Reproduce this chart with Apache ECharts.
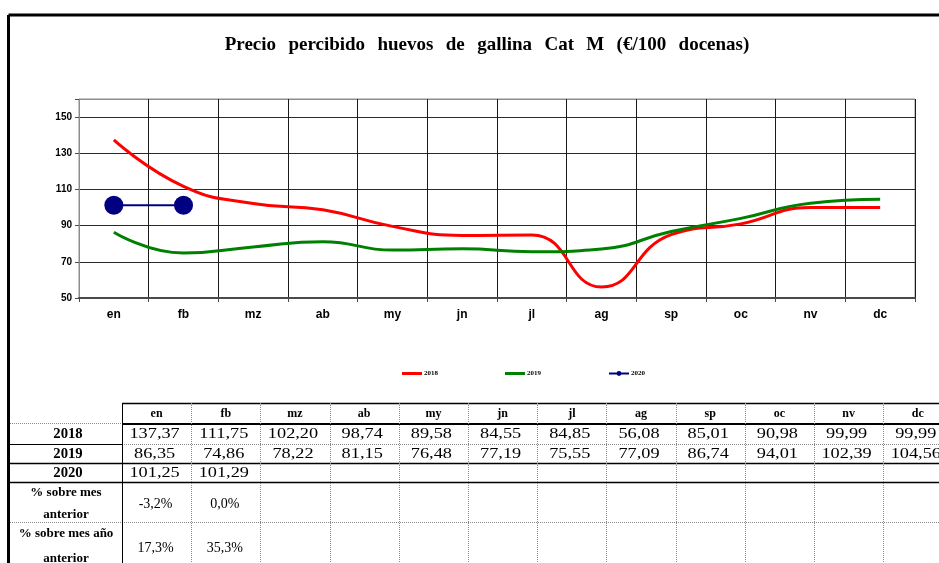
<!DOCTYPE html>
<html>
<head>
<meta charset="utf-8">
<script src="https://cdn.jsdelivr.net/npm/echarts@6/dist/echarts.min.js"></script>
<style>
  html, body { margin: 0; padding: 0; background: #fff; }
  #chart { width: 939px; height: 563px; }
</style>
</head>
<body>
<div id="chart"></div>
<script>
// Monthly egg prices (€/100 dozen), category M
const titleText = 'Precio percibido huevos de gallina Cat M (€/100 docenas)';
const months = ['en', 'fb', 'mz', 'ab', 'my', 'jn', 'jl', 'ag', 'sp', 'oc', 'nv', 'dc'];
const years = ['2018', '2019', '2020'];
const v2018 = [137.37, 111.75, 102.20, 98.74, 89.58, 84.55, 84.85, 56.08, 85.01, 90.98, 99.99, 99.99];
const v2019 = [86.35, 74.86, 78.22, 81.15, 76.48, 77.19, 75.55, 77.09, 86.74, 94.01, 102.39, 104.56];
const v2020 = [101.25, 101.29];
const pctPrevMonth = [-3.2, 0.0];
const pctPrevYear = [17.3, 35.3];
const yTicks = [50, 70, 90, 110, 130, 150];

const serif = '"Liberation Serif", "Times New Roman", serif';
const sans = '"Liberation Sans", Arial, sans-serif';

const fmtNum = v => v.toFixed(2).replace('.', ',');
const fmtPct = v => v.toFixed(1).replace('.', ',') + '%';

// ---- data table under the chart ----
const colX0 = 122, colW = 69.2;
const rowY = [403, 424, 444, 463, 482, 522, 563];
const labelCx = 66;
const tableRight = 939;
const g = [];

function hline(x1, x2, y, solid, w) {
  g.push({ type: 'line', silent: true,
    shape: { x1, y1: y, x2, y2: y },
    style: solid ? { stroke: '#000', lineWidth: w || 1 }
                 : { stroke: '#8a8a8a', lineWidth: 1, lineDash: [1, 1] } });
}
function vline(x, y1, y2, solid) {
  g.push({ type: 'line', silent: true,
    shape: { x1: x, y1, x2: x, y2 },
    style: solid ? { stroke: '#000', lineWidth: 1 }
                 : { stroke: '#8a8a8a', lineWidth: 1, lineDash: [1, 1] } });
}
function text(str, x, y, font, sx) {
  g.push({ type: 'text', silent: true, x, y, scaleX: sx || 1,
    style: { text: str, font, fill: '#000', align: 'center', verticalAlign: 'middle' } });
}

// outer frame
g.push({ type: 'line', silent: true, shape: { x1: 8.5, y1: 15, x2: 939, y2: 15 }, style: { stroke: '#000', lineWidth: 3 } });
g.push({ type: 'line', silent: true, shape: { x1: 8.5, y1: 15, x2: 8.5, y2: 563 }, style: { stroke: '#000', lineWidth: 3 } });

// chart title, words spread out
text(titleText.split(' ').join(' \u2009\u2009'), 487, 45, 'bold 19px ' + serif);

// horizontal rules
hline(colX0, tableRight, rowY[0] + 0.5, true, 1.5);
hline(10, colX0, rowY[1] - 0.5, false);
hline(colX0, tableRight, rowY[1], true, 2);
hline(10, colX0, rowY[2] + 0.5, true, 1);
hline(colX0, tableRight, rowY[2] + 0.5, false);
hline(10, tableRight, rowY[3] + 0.5, true, 1.5);
hline(10, tableRight, rowY[4] + 0.5, true, 1.5);
hline(10, tableRight, rowY[5] + 0.5, false);

// vertical rules
vline(colX0 + 0.5, rowY[0], 563, true);
for (let i = 1; i <= months.length; i++) {
  vline(Math.round(colX0 + i * colW) + 0.5, rowY[0], 563, false);
}

// header and row labels
const rowCenters = [414, 434.5, 454, 473];
months.forEach((m, i) => text(m, colX0 + (i + 0.5) * colW, rowCenters[0], 'bold 12px ' + serif));
years.forEach((y, i) => text(y, labelCx + 2, rowCenters[i + 1], 'bold 14px ' + serif, 1.05));
text('% sobre mes', labelCx, 493, 'bold 13px ' + serif);
text('anterior', labelCx, 515, 'bold 13px ' + serif);
text('% sobre mes año', labelCx, 534, 'bold 13px ' + serif);
text('anterior', labelCx, 559, 'bold 13px ' + serif);

// cell values
[v2018, v2019, v2020].forEach((arr, r) => {
  arr.forEach((v, i) => text(fmtNum(v), colX0 + (i + 0.5) * colW - 2, rowCenters[r + 1], '15px ' + serif, 1.22));
});
pctPrevMonth.forEach((v, i) => text(fmtPct(v), colX0 + (i + 0.5) * colW - 1, 504, '14px ' + serif));
pctPrevYear.forEach((v, i) => text(fmtPct(v), colX0 + (i + 0.5) * colW - 1, 548, '14px ' + serif));

const chart = echarts.init(document.getElementById('chart'), null, { renderer: 'canvas' });

const lineIcon = 'path://M0 0H20V3H0Z';

chart.setOption({
  animation: false,
  backgroundColor: '#fff',
  legend: {
    left: 397, top: 365,
    itemWidth: 20, itemHeight: 6, itemGap: 67,
    textStyle: { fontFamily: serif, fontWeight: 'bold', fontSize: 7, color: '#000', padding: [0, 0, 0, -3] },
    data: [
      { name: years[0], icon: lineIcon },
      { name: years[1], icon: lineIcon },
      { name: years[2] }
    ]
  },
  grid: {
    left: 79, right: 24, top: 99, bottom: 265,
    show: true, borderColor: '#8c8c8c', borderWidth: 1
  },
  xAxis: {
    type: 'category',
    data: months,
    boundaryGap: true,
    axisLine: { lineStyle: { color: '#4a4a4a', width: 2 } },
    axisTick: { show: true, length: 4, lineStyle: { color: '#4a4a4a' } },
    axisLabel: { fontFamily: sans, fontWeight: 'bold', fontSize: 12, color: '#000', margin: 11 },
    splitLine: { show: true, lineStyle: { color: '#1a1a1a', width: 1 } }
  },
  yAxis: {
    type: 'value',
    min: 50, max: 160, interval: 20,
    axisLine: { show: true, lineStyle: { color: '#8c8c8c', width: 1 } },
    axisTick: { show: true, length: 4, lineStyle: { color: '#4a4a4a' } },
    axisLabel: {
      fontFamily: sans, fontWeight: 'bold', fontSize: 10, color: '#000', margin: 7,
      formatter: v => (yTicks.indexOf(v) >= 0 ? String(v) : '')
    },
    splitLine: { show: true, lineStyle: { color: ['#2a2a2a', '#2a2a2a', '#2a2a2a', '#2a2a2a', '#2a2a2a', '#2a2a2a', '#8c8c8c'], width: 1 } }
  },
  series: [
    {
      name: '2018', type: 'line', data: v2018, smooth: 0.5,
      symbol: 'none', lineStyle: { color: '#ff0000', width: 3 }, itemStyle: { color: '#ff0000' }
    },
    {
      name: '2019', type: 'line', data: v2019, smooth: 0.5,
      symbol: 'none', lineStyle: { color: '#008000', width: 3 }, itemStyle: { color: '#008000' }
    },
    {
      name: '2020', type: 'line', data: v2020,
      symbol: 'circle', symbolSize: 19,
      lineStyle: { color: '#000080', width: 2 }, itemStyle: { color: '#000080' }
    }
  ],
  graphic: g
});
</script>
</body>
</html>
